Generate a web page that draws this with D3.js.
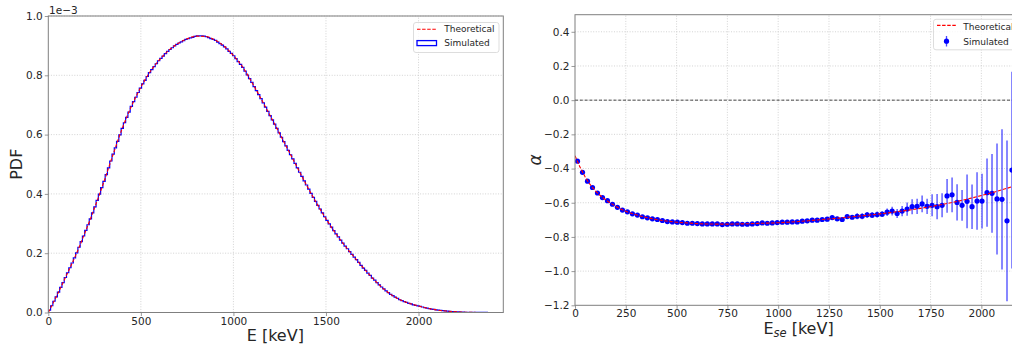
<!DOCTYPE html>
<html><head><meta charset="utf-8">
<script src="https://cdn.jsdelivr.net/npm/d3@7"></script>
<style>
html,body{margin:0;padding:0;background:#fff;overflow:hidden;}
svg{display:block;font-family:"DejaVu Sans",sans-serif;}
</style></head><body>
<svg id="fig" width="1012" height="347"></svg>
<script>
// ---- data -------------------------------------------------------------
const Q_VALUE = 2458;            // keV, end point of the summed spectrum

// simulated summed-energy spectrum, PDF in units of 1e-3 per keV (200 bins over [0, Q])
const simulatedPdf = [
  0.0076,0.0228,0.038,0.053,0.069,0.085,0.101,0.118,0.134,0.151,
  0.167,0.184,0.201,0.220,0.239,0.258,0.277,0.296,0.316,0.336,
  0.356,0.378,0.399,0.421,0.442,0.465,0.488,0.511,0.534,0.555,
  0.577,0.599,0.621,0.640,0.658,0.676,0.695,0.711,0.726,0.742,
  0.757,0.771,0.783,0.796,0.809,0.819,0.829,0.839,0.849,0.857,
  0.865,0.873,0.881,0.887,0.893,0.899,0.904,0.909,0.913,0.917,
  0.921,0.924,0.926,0.928,0.931,0.933,0.933,0.933,0.932,0.930,
  0.927,0.924,0.921,0.918,0.912,0.907,0.902,0.896,0.889,0.881,
  0.874,0.866,0.856,0.846,0.837,0.827,0.814,0.801,0.789,0.776,
  0.762,0.748,0.735,0.721,0.707,0.693,0.678,0.664,0.650,0.635,
  0.621,0.606,0.591,0.576,0.562,0.547,0.532,0.518,0.503,0.488,
  0.473,0.459,0.444,0.430,0.416,0.402,0.388,0.375,0.361,0.349,
  0.336,0.323,0.311,0.299,0.288,0.276,0.265,0.255,0.244,0.234,
  0.224,0.215,0.205,0.196,0.187,0.178,0.169,0.159,0.150,0.142,
  0.133,0.125,0.116,0.109,0.101,0.093,0.086,0.080,0.073,0.067,
  0.061,0.057,0.052,0.048,0.043,0.040,0.037,0.034,0.031,0.029,
  0.026,0.024,0.0225,0.0205,0.0185,0.0165,0.0146,0.013,0.0117,0.0103,
  0.009,0.0079,0.007,0.0061,0.0052,0.0045,0.0039,0.0033,0.0027,0.0022,
  0.0019,0.0015,0.0012,0.0009,0.0007,0.0005,0.0004,0.0003,0.0002,0.0002,
  0.0001,0.0001,0.0001,0,0,0,0,0,0,0
];

// theoretical spectrum (1e-3 per keV)
const theoryEnergy = [0,50,100,150,200,250,300,350,400,450,500,550,600,650,700,750,800,850,900,950,
  1000,1050,1100,1150,1200,1250,1300,1350,1400,1450,1500,1550,1600,1650,1700,1750,1800,1850,1900,1950,
  2000,2050,2100,2150,2200,2250,2300,2350,2400,2450,2458];
const theoryPdf = [0,0.062,0.128,0.196,0.272,0.353,0.440,0.533,0.622,0.697,0.760,0.812,0.852,0.884,0.907,0.923,0.932,0.931,0.919,0.898,
  0.867,0.828,0.776,0.720,0.662,0.603,0.543,0.483,0.424,0.368,0.316,0.269,0.227,0.189,0.152,0.117,0.086,0.061,0.043,0.031,
  0.022,0.014,0.0085,0.0048,0.0024,0.001,0.0003,0.0001,0,0,0];

// angular correlation coefficient per single-electron energy bin (bins of Q/100)
const alphaSimulated = [
  -0.357,-0.422,-0.474,-0.511,-0.543,-0.570,-0.588,-0.609,-0.627,-0.643,
  -0.653,-0.665,-0.672,-0.682,-0.688,-0.694,-0.698,-0.704,-0.710,-0.712,
  -0.714,-0.716,-0.720,-0.720,-0.722,-0.724,-0.724,-0.724,-0.724,-0.728,
  -0.726,-0.724,-0.724,-0.726,-0.726,-0.724,-0.722,-0.718,-0.720,-0.718,
  -0.716,-0.714,-0.714,-0.712,-0.712,-0.708,-0.706,-0.702,-0.702,-0.698,
  -0.696,-0.687,-0.694,-0.698,-0.681,-0.685,-0.679,-0.679,-0.671,-0.673,
  -0.669,-0.667,-0.655,-0.649,-0.663,-0.649,-0.637,-0.623,-0.621,-0.607,
  -0.621,-0.615,-0.623,-0.615,-0.560,-0.554,-0.598,-0.615,-0.592,-0.623,
  -0.590,-0.590,-0.541,-0.545,-0.578,-0.580,-0.706,-0.409
];
const alphaError = [
  0.003,0.003,0.003,0.003,0.003,0.003,0.003,0.003,0.003,0.003,
  0.003,0.003,0.003,0.003,0.003,0.003,0.003,0.003,0.003,0.003,
  0.005,0.005,0.005,0.005,0.005,0.005,0.005,0.005,0.005,0.005,
  0.005,0.005,0.005,0.005,0.005,0.005,0.005,0.005,0.005,0.005,
  0.008,0.008,0.008,0.008,0.008,0.008,0.008,0.008,0.008,0.008,
  0.012,0.012,0.012,0.012,0.012,0.012,0.017,0.017,0.017,0.017,
  0.017,0.017,0.022,0.025,0.026,0.030,0.039,0.044,0.045,0.049,
  0.045,0.064,0.074,0.070,0.099,0.102,0.106,0.090,0.157,0.130,
  0.168,0.160,0.200,0.230,0.325,0.410,0.470,0.575
];
const ALPHA_BIN = Q_VALUE / 100;

const alphaTheoryEnergy = [0,25,50,100,150,200,250,300,350,400,450,500,550,600,650,700,750,800,850,900,950,
  1000,1050,1100,1150,1200,1250,1300,1350,1400,1450,1500,1550,1600,1650,1700,1750,1800,1850,1900,1950,
  2000,2050,2100,2150,2200];
const alphaTheory = [-0.325,-0.392,-0.449,-0.530,-0.582,-0.620,-0.650,-0.670,-0.686,-0.698,-0.707,-0.714,-0.718,-0.722,-0.724,-0.725,-0.725,-0.724,-0.723,-0.721,-0.719,
  -0.717,-0.714,-0.710,-0.705,-0.700,-0.695,-0.690,-0.684,-0.678,-0.672,-0.665,-0.658,-0.650,-0.642,-0.633,-0.623,-0.612,-0.600,-0.587,-0.573,
  -0.558,-0.542,-0.525,-0.507,-0.489];

const pdfXTicks = [0,500,1000,1500,2000];
const pdfYTicks = [0,0.2,0.4,0.6,0.8,1.0];
const alphaXTicks = [0,250,500,750,1000,1250,1500,1750,2000];
const alphaYTicks = [0.4,0.2,0.0,-0.2,-0.4,-0.6,-0.8,-1.0,-1.2];

// ---- drawing ----------------------------------------------------------
const svg = d3.select('#fig');
const COL = {spine:'#7f7f7f', grid:'#c8c8c8', text:'#262626', legendEdge:'#d4d4d4'};
const RED = '#ff0000', BLUE = '#0000ff';

function frame(x, y, xTicks, yTicks, id, yFmt) {
  const [x0, x1] = x.range(), [y0, y1] = y.range();
  const g = svg.append('g');
  svg.append('clipPath').attr('id', id).append('rect')
    .attr('x', x0).attr('y', y1).attr('width', x1 - x0).attr('height', y0 - y1);
  const grid = g.append('g').attr('stroke', COL.grid).attr('stroke-width', 0.8)
    .attr('stroke-dasharray', '1,1.6');
  grid.selectAll('.gx').data(xTicks.filter(t => x(t) > x0 + 0.5)).join('line')
    .attr('x1', d => x(d)).attr('x2', d => x(d)).attr('y1', y0).attr('y2', y1);
  grid.selectAll('.gy').data(yTicks.filter(t => y(t) < y0 - 0.5)).join('line')
    .attr('y1', d => y(d)).attr('y2', d => y(d)).attr('x1', x0).attr('x2', x1);
  const ax = g.append('g').attr('transform', `translate(0,${y0})`)
    .call(d3.axisBottom(x).tickValues(xTicks).tickSize(3.5).tickPadding(1.2).tickFormat(d3.format('d')));
  const ay = g.append('g').attr('transform', `translate(${x0},0)`)
    .call(d3.axisLeft(y).tickValues(yTicks).tickSize(3.5).tickPadding(2).tickFormat(yFmt));
  [ax, ay].forEach(a => {
    a.select('.domain').remove();
    a.selectAll('line').attr('stroke', COL.spine).attr('stroke-width', 0.8);
    a.selectAll('text').attr('fill', COL.text).style('font-size', '10.5px')
      .style('font-family', '"DejaVu Sans",sans-serif');
  });
  return {g, x0, x1, y0, y1};
}
function spines(f) {
  svg.append('rect').attr('x', f.x0).attr('y', f.y1).attr('width', f.x1 - f.x0).attr('height', f.y0 - f.y1)
    .attr('fill', 'none').attr('stroke', COL.spine).attr('stroke-width', 1);
}

// ---------- left panel: energy spectrum ----------
const xL = d3.scaleLinear([0, Q_VALUE], [48.3, 503.3]);
const yL = d3.scaleLinear([0, 1.0], [312.5, 16]);
const fL = frame(xL, yL, pdfXTicks, pdfYTicks, 'clipL', d3.format('.1f'));
const binW = Q_VALUE / simulatedPdf.length;

const plotL = svg.append('g').attr('clip-path', 'url(#clipL)');
const stepPts = [[0, 0]];
simulatedPdf.forEach((v, i) => { stepPts.push([i * binW, v]); stepPts.push([(i + 1) * binW, v]); });
stepPts.push([Q_VALUE, 0]);
plotL.append('path').datum(stepPts)
  .attr('d', d3.line().x(d => xL(d[0])).y(d => yL(d[1])))
  .attr('fill', 'none').attr('stroke', BLUE).attr('stroke-width', 1.2);
plotL.append('path').datum(theoryEnergy.map((e, i) => [e, theoryPdf[i]]))
  .attr('d', d3.line().x(d => xL(d[0])).y(d => yL(d[1])).curve(d3.curveMonotoneX))
  .attr('fill', 'none').attr('stroke', RED).attr('stroke-width', 1.1)
  .attr('stroke-dasharray', '3.5,1.6');
spines(fL);

svg.append('text').attr('x', 49).attr('y', 14).text('1e\u22123')
  .attr('fill', COL.text).style('font-size', '10.5px');
svg.append('text').attr('x', xL(Q_VALUE / 2) - 0.5).attr('y', 341).attr('text-anchor', 'middle')
  .attr('fill', COL.text).style('font-size', '16px').text('E [keV]');
svg.append('text').attr('transform', `translate(22,${(fL.y0 + fL.y1) / 2}) rotate(-90)`)
  .attr('text-anchor', 'middle').attr('fill', COL.text).style('font-size', '16px').text('PDF');

// legend, left panel
{
  const lg = svg.append('g');
  lg.append('rect').attr('x', 413.5).attr('y', 22.5).attr('width', 85.5).attr('height', 30).attr('rx', 2.5)
    .attr('fill', '#fff').attr('fill-opacity', 0.8).attr('stroke', COL.legendEdge).attr('stroke-width', 0.8);
  lg.append('line').attr('x1', 417).attr('x2', 437).attr('y1', 29.3).attr('y2', 29.3)
    .attr('stroke', RED).attr('stroke-width', 1.1).attr('stroke-dasharray', '3.5,1.6');
  lg.append('rect').attr('x', 417).attr('y', 40.6).attr('width', 19.5).attr('height', 5)
    .attr('fill', 'none').attr('stroke', BLUE).attr('stroke-width', 1.3);
  lg.append('text').attr('x', 444.3).attr('y', 32.4).text('Theoretical').attr('fill', COL.text).style('font-size', '9px');
  lg.append('text').attr('x', 444.3).attr('y', 46.4).text('Simulated').attr('fill', COL.text).style('font-size', '9px');
}

// ---------- right panel: alpha ----------
const xR = d3.scaleLinear([0, 2200], [575, 1022]);
const yR = d3.scaleLinear([-1.2, 0.5], [305.3, 14.7]);
const fR = frame(xR, yR, alphaXTicks, alphaYTicks, 'clipR', d3.format('.1f'));

const plotR = svg.append('g').attr('clip-path', 'url(#clipR)');
plotR.append('line').attr('x1', fR.x0).attr('x2', fR.x1).attr('y1', yR(0)).attr('y2', yR(0))
  .attr('stroke', '#333').attr('stroke-width', 0.9).attr('stroke-dasharray', '3,1.8');
const alphaPts = alphaSimulated.map((a, i) => ({e: (i + 0.5) * ALPHA_BIN, a, s: alphaError[i]}));
plotR.append('g').selectAll('line').data(alphaPts).join('line')
  .attr('x1', d => xR(d.e)).attr('x2', d => xR(d.e))
  .attr('y1', d => yR(d.a - d.s)).attr('y2', d => yR(d.a + d.s))
  .attr('stroke', BLUE).attr('stroke-opacity', 0.72).attr('stroke-width', 1.3);
plotR.append('g').selectAll('circle').data(alphaPts).join('circle')
  .attr('cx', d => xR(d.e)).attr('cy', d => yR(d.a)).attr('r', 2.6).attr('fill', BLUE);
plotR.append('path').datum(alphaTheoryEnergy.map((e, i) => [e, alphaTheory[i]]))
  .attr('d', d3.line().x(d => xR(d[0])).y(d => yR(d[1])).curve(d3.curveMonotoneX))
  .attr('fill', 'none').attr('stroke', RED).attr('stroke-width', 1.1)
  .attr('stroke-dasharray', '3.5,1.6');
spines(fR);

{
  const t = svg.append('text').attr('x', (fR.x0 + fR.x1) / 2).attr('y', 334).attr('text-anchor', 'middle')
    .attr('fill', COL.text).style('font-size', '16px');
  t.append('tspan').text('E');
  t.append('tspan').attr('dy', 3).style('font-size', '11.5px').style('font-style', 'italic').text('se');
  t.append('tspan').attr('dy', -3).text(' [keV]');
}
svg.append('text').attr('transform', `translate(541,${(fR.y0 + fR.y1) / 2}) rotate(-90)`)
  .attr('text-anchor', 'middle').attr('fill', COL.text).style('font-size', '17px')
  .style('font-style', 'italic').text('\u03b1');

// legend, right panel
{
  const lg = svg.append('g');
  lg.append('rect').attr('x', 933.5).attr('y', 19.3).attr('width', 85).attr('height', 30.5).attr('rx', 2.5)
    .attr('fill', '#fff').attr('fill-opacity', 0.8).attr('stroke', COL.legendEdge).attr('stroke-width', 0.8);
  lg.append('line').attr('x1', 937).attr('x2', 956).attr('y1', 25.3).attr('y2', 25.3)
    .attr('stroke', RED).attr('stroke-width', 1.2).attr('stroke-dasharray', '3.5,1.6');
  lg.append('line').attr('x1', 946.5).attr('x2', 946.5).attr('y1', 36).attr('y2', 46.5)
    .attr('stroke', BLUE).attr('stroke-opacity', 0.72).attr('stroke-width', 1.3);
  lg.append('circle').attr('cx', 946.5).attr('cy', 41.2).attr('r', 2.6).attr('fill', BLUE);
  lg.append('text').attr('x', 963.3).attr('y', 30).text('Theoretical').attr('fill', COL.text).style('font-size', '9px');
  lg.append('text').attr('x', 963.3).attr('y', 44.5).text('Simulated').attr('fill', COL.text).style('font-size', '9px');
}
</script>
</body></html>
